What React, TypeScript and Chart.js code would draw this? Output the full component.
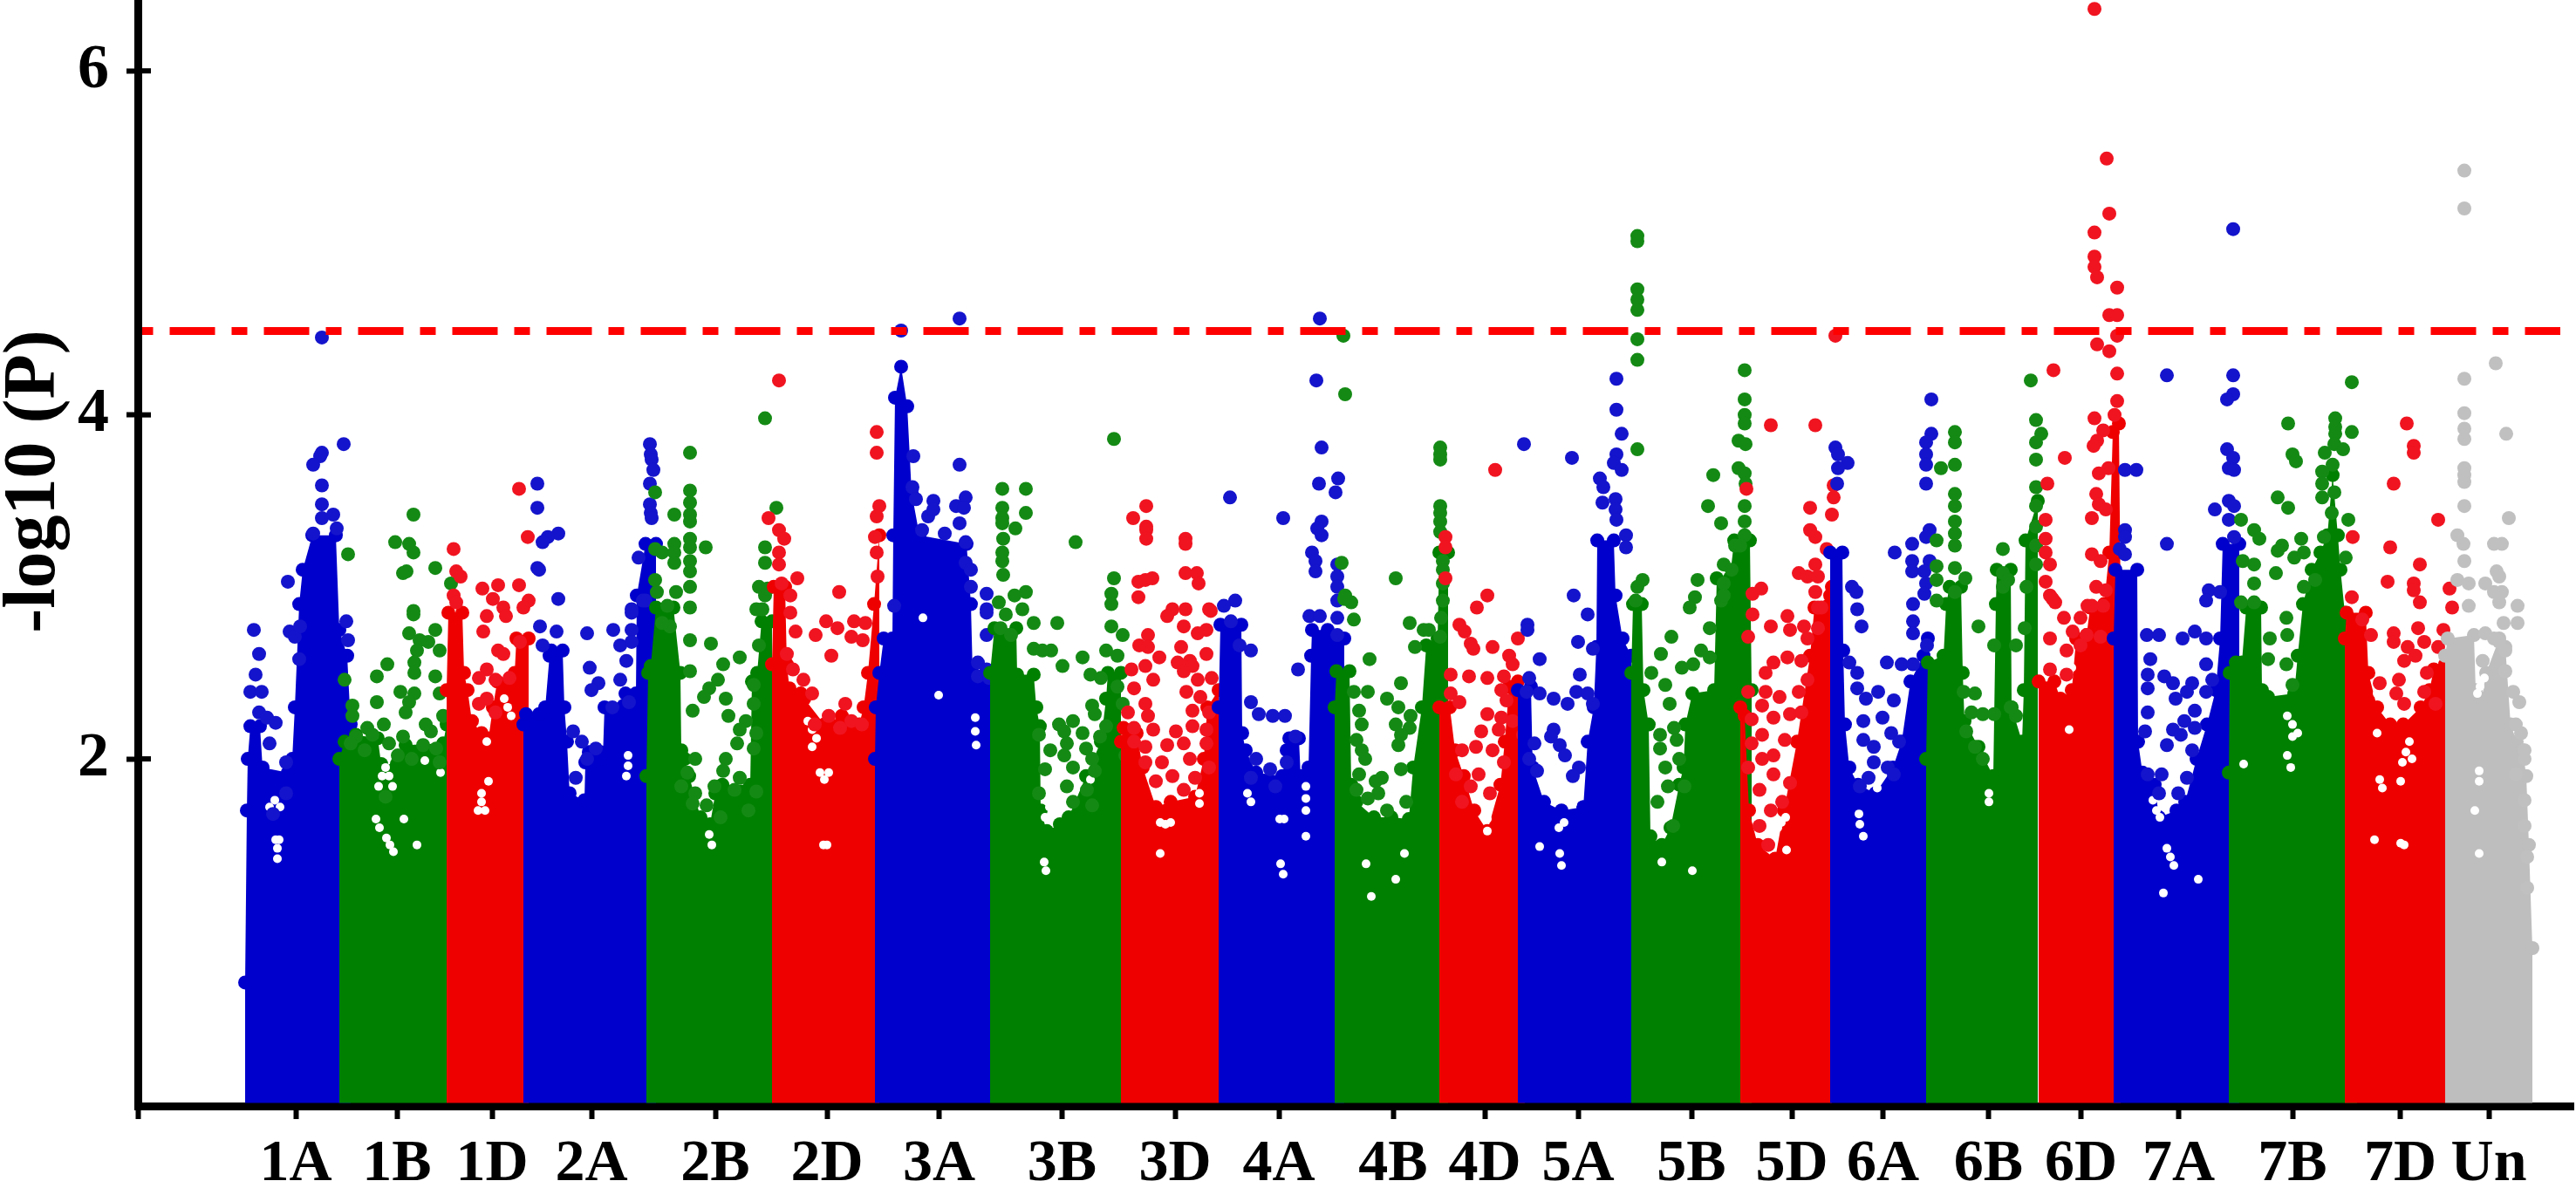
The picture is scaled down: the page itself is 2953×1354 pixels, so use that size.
import React, { useRef, useEffect } from "react";
import { Chart, registerables } from "chart.js";

Chart.register(...registerables);

type Pt = [number, number];

const SERIF = "'Liberation Serif', 'Times New Roman', serif";

const chromLabels = ["1A", "1B", "1D", "2A", "2B", "2D", "3A", "3B", "3D", "4A", "4B", "4D", "5A", "5B", "5D", "6A", "6B", "6D", "7A", "7B", "7D", "Un"];
const chromTicks = [339, 455, 564, 678, 820, 948, 1076.5, 1217.5, 1347, 1466, 1597, 1702, 1809, 1939, 2054, 2158.5, 2279.5, 2385.5, 2497.5, 2628, 2751.5, 2853];
const chromColors = ["#0000cc", "#008000", "#ee0000", "#0000cc", "#008000", "#ee0000", "#0000cc", "#008000", "#ee0000", "#0000cc", "#008000", "#ee0000", "#0000cc", "#008000", "#ee0000", "#0000cc", "#008000", "#ee0000", "#0000cc", "#008000", "#ee0000", "#bebebe"];
const dotColors = ["#1414cc", "#148a14", "#f01420", "#1414cc", "#148a14", "#f01420", "#1414cc", "#148a14", "#f01420", "#1414cc", "#148a14", "#f01420", "#1414cc", "#148a14", "#f01420", "#1414cc", "#148a14", "#f01420", "#1414cc", "#148a14", "#f01420", "#c0c0c0"];

const yTicks = [2, 4, 6];
const thresholdValue = 4.488;
const thresholdRange = [163, 2935];

// top of the solid mass per chromosome: [cumulative position, -log10 P]
const top1A: Pt[] = [[281, 0.7], [283, 1.7], [284, 2], [287, 2.19], [298, 2.19], [301, 1.95], [330, 1.92], [335, 2], [338, 2.3], [343, 2.9], [347, 3.1], [358, 3.3], [385, 3.3], [389, 2.75], [398, 2.6], [402, 2.2]];
const top1B: Pt[] = [[389, 2], [395, 2.1], [408, 2.14], [433, 2.12], [437, 1.97], [455, 1.97], [465, 2.08], [508, 2.09], [512, 2.2]];
const top1D: Pt[] = [[512, 2.4], [514, 2.85], [530, 2.85], [532, 2.5], [536, 2.4], [541, 2.22], [552, 2.15], [560, 2.12], [565, 2.3], [570, 2.45], [590, 2.5], [592, 2.7], [606, 2.7]];
const top2A: Pt[] = [[600, 2.2], [603, 2.26], [618, 2.26], [625, 2.3], [630, 2.6], [632, 2.63], [645, 2.63], [647, 2.3], [650, 2.1], [653, 1.8], [670, 1.76], [671, 1.98], [675, 2.04], [688, 2.04], [691, 2], [693, 2.3], [715, 2.31], [717, 2.38], [729, 2.38], [730, 2.95], [740, 3.25], [752, 3.25]];
const top2B: Pt[] = [[741, 1.9], [743, 2.5], [746, 2.54], [752, 2.88], [772, 2.88], [780, 2.5], [781, 2.05], [785, 2], [790, 1.9], [803, 1.66], [814, 1.62], [820, 1.8], [828, 1.85], [860, 1.85], [862, 2.45], [868, 2.5], [873, 2.8], [885, 2.8]];
const top2D: Pt[] = [[885, 2.55], [887, 3], [900, 3], [902, 2.55], [905, 2.41], [918, 2.38], [922, 2.35], [945, 2.2], [965, 2.25], [985, 2.2], [990, 2.3], [995, 2.5], [1002, 2.9], [1008, 3.3]];
const top3A: Pt[] = [[1003, 2], [1004, 2.3], [1008, 2.5], [1013, 2.7], [1023, 2.7], [1024, 3.3], [1026, 4.1], [1033, 4.28], [1040, 4.05], [1045, 3.55], [1054, 3.3], [1108, 3.25], [1113, 2.9], [1115, 2.5], [1135, 2.45]];
const top3B: Pt[] = [[1135, 2.5], [1140, 2.76], [1165, 2.76], [1166, 2.49], [1185, 2.49], [1188, 2.3], [1192, 2.19], [1193, 1.7], [1200, 1.58], [1215, 1.62], [1225, 1.66], [1245, 1.9], [1262, 2.1], [1268, 2.35], [1270, 2.5], [1285, 2.5]];
const top3D: Pt[] = [[1285, 2.1], [1288, 2.18], [1303, 2.15], [1310, 1.95], [1325, 1.72], [1342, 1.75], [1370, 1.78], [1380, 2], [1384, 2.3], [1397, 2.4]];
const top4A: Pt[] = [[1397, 2.3], [1399, 2.78], [1423, 2.78], [1424, 2.15], [1428, 2.05], [1440, 1.92], [1470, 1.9], [1475, 2.05], [1478, 2.12], [1489, 2.12], [1491, 1.9], [1500, 1.95], [1503, 2.6], [1504, 2.75], [1522, 2.75], [1530, 2.7], [1541, 2.7]];
const top4B: Pt[] = [[1530, 2.3], [1532, 2.51], [1547, 2.51], [1549, 1.85], [1555, 1.75], [1575, 1.66], [1595, 1.66], [1615, 1.65], [1620, 1.95], [1630, 2.3], [1635, 2.66], [1648, 2.7], [1650, 3.2], [1660, 3.2]];
const top4D: Pt[] = [[1650, 2.3], [1662, 2.3], [1668, 2.05], [1678, 1.9], [1690, 1.7], [1705, 1.58], [1720, 1.85], [1725, 2.1], [1730, 2.42], [1740, 2.45], [1748, 2.1]];
const top5A: Pt[] = [[1740, 2.4], [1755, 2.42], [1757, 1.95], [1770, 1.75], [1790, 1.7], [1815, 1.72], [1820, 2.1], [1827, 2.3], [1830, 2.65], [1831, 3.27], [1850, 3.27], [1852, 2.95], [1860, 2.7], [1870, 2.6]];
const top5B: Pt[] = [[1870, 2.5], [1872, 2.9], [1882, 2.9], [1884, 2.4], [1890, 2.2], [1892, 1.55], [1905, 1.5], [1915, 1.6], [1925, 1.85], [1930, 1.95], [1932, 2.2], [1940, 2.38], [1965, 2.4], [1968, 3.05], [1983, 3.05], [1988, 3.27], [2006, 3.27], [2008, 2.4]];
const top5D: Pt[] = [[1995, 2.3], [2000, 2.25], [2005, 1.7], [2015, 1.5], [2035, 1.42], [2045, 1.7], [2060, 2.1], [2075, 2.6], [2080, 2.88], [2098, 2.95], [2100, 3]];
const top6A: Pt[] = [[2098, 3.2], [2112, 3.2], [2113, 2.63], [2115, 2.2], [2120, 1.95], [2130, 1.85], [2150, 1.8], [2170, 1.95], [2180, 2.1], [2190, 2.45], [2205, 2.6], [2210, 2.7]];
const top6B: Pt[] = [[2208, 2], [2210, 2.56], [2228, 2.6], [2231, 2.9], [2235, 3], [2248, 3], [2250, 2.5], [2252, 2.22], [2268, 2.07], [2285, 1.9], [2288, 2.9], [2289, 3.1], [2305, 3.1], [2306, 2.3], [2318, 2.1], [2320, 2.4], [2322, 3.27], [2336, 3.5]];
const top6D: Pt[] = [[2337, 2.45], [2355, 2.45], [2362, 2.35], [2375, 2.4], [2380, 2.7], [2392, 2.72], [2396, 2.88], [2412, 2.9], [2418, 3.2], [2422, 3.9], [2429, 3.95], [2431, 2.9]];
const top7A: Pt[] = [[2423, 2.7], [2425, 3.1], [2450, 3.1], [2451, 2.1], [2456, 1.92], [2470, 1.85], [2475, 1.66], [2495, 1.7], [2505, 1.75], [2518, 2], [2530, 2.2], [2540, 2.4], [2545, 2.7], [2548, 3.25], [2567, 3.25]];
const top7B: Pt[] = [[2555, 1.92], [2556, 2.5], [2563, 2.56], [2570, 2.56], [2575, 2.88], [2592, 2.88], [2593, 2.4], [2600, 2.36], [2630, 2.38], [2634, 2.6], [2640, 2.9], [2650, 3.1], [2660, 3.2], [2668, 3.3], [2674, 3.65], [2680, 3.3], [2683, 3.1], [2688, 2.85], [2702, 2.8]];
const top7D: Pt[] = [[2688, 2.7], [2690, 2.85], [2712, 2.85], [2715, 2.5], [2725, 2.3], [2740, 2.2], [2755, 2.2], [2775, 2.3], [2785, 2.4], [2790, 2.52], [2803, 2.55]];
const topUn: Pt[] = [[2803, 2.6], [2806, 2.7], [2836, 2.72], [2838, 2.4], [2845, 2.35], [2850, 2.5], [2865, 2.7], [2872, 2.65], [2878, 2.2], [2885, 2.1], [2892, 2.05], [2896, 1.9], [2899, 1.5], [2903, 0.9]];

// blank spots inside the mass where no SNP falls
const gaps1A: Pt[] = [[318, 1.48], [318, 1.42], [316, 1.53], [320, 1.53], [315, 1.76], [309, 1.72], [321, 1.72]];
const gaps1B: Pt[] = [[438, 1.9], [446, 1.9], [434, 1.84], [450, 1.84], [442, 1.95], [447, 1.5], [443, 1.54], [451, 1.46], [435, 1.6], [431, 1.65], [487, 1.99], [463, 1.65], [505, 1.92], [478, 1.5]];
const gaps1D: Pt[] = [[552, 1.75], [548, 1.7], [556, 1.7], [552, 1.8], [560, 1.87], [558, 2.1], [582, 2.3], [578, 2.35], [586, 2.25]];
const gaps2A: Pt[] = [[720, 1.96], [720, 2.02], [718, 1.9]];
const gaps2B: Pt[] = [[813, 1.56], [816, 1.5]];
const gaps2D: Pt[] = [[931, 2.17], [926, 2.22], [936, 2.12], [931, 2.07], [945, 1.88], [950, 1.92], [940, 1.92], [948, 1.5], [944, 1.5]];
const gaps3A: Pt[] = [[1118, 2.24], [1118, 2.16], [1119, 2.08], [1058, 2.82], [1076, 2.37]];
const gaps3B: Pt[] = [[1205, 1.8], [1200, 1.86], [1210, 1.74], [1203, 1.72], [1198, 1.66], [1197, 1.4], [1199, 1.35], [1250, 1.88]];
const gaps3D: Pt[] = [[1336, 1.62], [1330, 1.63], [1342, 1.63], [1330, 1.45], [1375, 1.8], [1375, 1.74]];
const gaps4A: Pt[] = [[1430, 1.8], [1434, 1.75], [1467, 1.65], [1472, 1.65], [1497, 1.77], [1497, 1.7], [1497, 1.84], [1468, 1.39], [1471, 1.33], [1497, 1.55]];
const gaps4B: Pt[] = [[1566, 1.39], [1572, 1.2], [1600, 1.3], [1610, 1.45]];
const gaps4D: Pt[] = [[1668, 1.9], [1705, 1.65], [1705, 1.58], [1704, 1.7]];
const gaps5A: Pt[] = [[1805, 1.82], [1800, 1.87], [1810, 1.78], [1803, 1.74], [1787, 1.6], [1793, 1.63], [1765, 1.49], [1788, 1.45], [1790, 1.38]];
const gaps5B: Pt[] = [[1905, 1.4], [1940, 1.35]];
const gaps5D: Pt[] = [[2042, 1.63], [2047, 1.66], [2038, 1.6], [2040, 1.82], [2048, 1.47], [2045, 2.22], [2021, 2.09], [2026, 2.05]];
const gaps6A: Pt[] = [[2132, 1.62], [2136, 1.55], [2131, 1.68], [2148, 1.87], [2152, 1.83], [2170, 1.9]];
const gaps6B: Pt[] = [[2280, 1.8], [2280, 1.75]];
const gaps6D: Pt[] = [[2372, 2.17], [2362, 2.53], [2375, 2.53]];
const gaps7A: Pt[] = [[2472, 1.7], [2468, 1.76], [2476, 1.66], [2488, 1.43], [2492, 1.38], [2484, 1.48], [2480, 1.22], [2520, 1.3]];
const gaps7B: Pt[] = [[2628, 2.2], [2622, 2.25], [2634, 2.15], [2628, 2.13], [2622, 2.02], [2572, 1.97], [2626, 1.95]];
const gaps7D: Pt[] = [[2758, 2.04], [2762, 2.1], [2754, 1.98], [2765, 2], [2728, 1.88], [2731, 1.83], [2752, 1.87], [2752, 1.51], [2756, 1.5], [2722, 1.53], [2725, 2.15], [2725, 2.38], [2730, 2.43]];
const gapsUn: Pt[] = [[2842, 1.93], [2842, 1.87], [2837, 1.7], [2843, 2.42], [2848, 2.47], [2840, 2.38], [2842, 1.45]];

const dots1A: Pt[] = [[369, 4.45], [394, 3.83], [369, 3.78], [367, 3.76], [359, 3.71], [369, 3.59], [369, 3.48], [382, 3.42], [369, 3.4], [386, 3.34], [359, 3.31], [330, 3.03], [291, 2.75], [297, 2.61], [293, 2.49], [287, 2.39], [300, 2.39], [297, 2.27], [306, 2.24], [316, 2.21], [332, 2.74], [338, 2.71], [343, 2.58], [397, 2.8], [399, 2.69], [344, 2.77], [309, 2.09], [313, 1.68], [328, 1.98], [328, 1.8]];
const dots1B: Pt[] = [[399, 3.19], [474, 3.42], [453, 3.26], [469, 3.25], [474, 3.2], [462, 3.08], [466, 3.09], [499, 3.11], [517, 3.02], [474, 2.86], [474, 2.84], [469, 2.73], [499, 2.75], [481, 2.69], [491, 2.68], [478, 2.63], [504, 2.63], [475, 2.56], [444, 2.55], [432, 2.48], [475, 2.5], [499, 2.48], [504, 2.38], [459, 2.39], [475, 2.38], [469, 2.33], [432, 2.33], [465, 2.27], [404, 2.31], [404, 2.25], [508, 2.25], [440, 2.2], [421, 2.18], [488, 2.2], [494, 2.16], [462, 2.13], [408, 2.13], [446, 2.09], [427, 2.14], [485, 2.08], [500, 2.06], [418, 2.05], [395, 2.46], [402, 2.09], [456, 2.02], [472, 2], [504, 1.98], [442, 1.78]];
const dots1D: Pt[] = [[595, 3.57], [520, 3.22], [523, 3.09], [528, 3.06], [520, 2.95], [523, 2.91], [553, 2.99], [571, 3.01], [595, 3.01], [565, 2.93], [606, 2.92], [605, 3.29], [600, 2.88], [577, 2.88], [558, 2.83], [580, 2.83], [554, 2.74], [571, 2.63], [577, 2.61], [596, 2.68], [558, 2.52], [549, 2.47], [568, 2.46], [584, 2.47], [558, 2.35], [549, 2.32], [568, 2.27]];
const dots2A: Pt[] = [[616, 3.6], [616, 3.46], [640, 3.31], [628, 3.29], [622, 3.26], [616, 3.11], [640, 2.93], [724, 2.87], [618, 3.1], [619, 2.77], [638, 2.74], [673, 2.73], [703, 2.75], [724, 2.75], [724, 2.85], [737, 2.92], [711, 2.66], [724, 2.68], [622, 2.66], [676, 2.53], [718, 2.57], [711, 2.46], [686, 2.44], [678, 2.4], [657, 2.16], [667, 2.1], [683, 2.06], [673, 2], [721, 2.33], [702, 2.3], [660, 1.89], [745, 3.83], [746, 3.77], [747, 3.74], [749, 3.68], [745, 3.6], [745, 3.48], [746, 3.43], [747, 3.4], [732, 3.17], [740, 2.92]];
const dots2B: Pt[] = [[791, 3.78], [751, 3.55], [791, 3.56], [791, 3.49], [773, 3.42], [791, 3.42], [791, 3.38], [791, 3.28], [791, 3.23], [773, 3.25], [809, 3.23], [751, 3.22], [759, 3.2], [773, 3.2], [791, 3.15], [773, 3.14], [791, 3.09], [751, 3.04], [791, 3], [775, 2.97], [753, 2.97], [791, 2.88], [765, 2.89], [877, 3.98], [890, 3.46], [877, 3.23], [877, 3.14], [870, 3], [877, 2.95], [867, 2.87], [791, 2.69], [768, 2.77], [759, 2.79], [815, 2.67], [848, 2.59], [829, 2.55], [791, 2.51], [823, 2.46], [813, 2.41], [807, 2.36], [832, 2.35], [864, 2.43], [864, 2.32], [794, 2.28], [835, 2.25], [855, 2.22], [848, 2.17], [867, 2.15], [845, 2.09], [864, 2.06], [832, 2], [797, 2], [788, 1.92], [829, 1.93], [848, 1.89], [781, 1.84], [797, 1.8], [819, 1.84], [842, 1.82], [810, 1.73], [794, 1.74], [867, 1.81], [826, 1.66], [858, 1.7], [870, 2.66], [874, 2.87], [880, 2.99]];
const dots2D: Pt[] = [[893, 4.2], [893, 3.33], [899, 3.28], [881, 3.4], [893, 3.2], [893, 3.13], [914, 3.05], [962, 2.97], [896, 3.02], [906, 2.95], [1005, 3.9], [1005, 3.78], [1008, 3.47], [1005, 3.41], [1003, 3.29], [1005, 3.2], [1006, 3.06], [906, 2.85], [947, 2.8], [935, 2.72], [960, 2.76], [979, 2.8], [976, 2.71], [992, 2.79], [989, 2.69], [953, 2.6], [912, 2.74], [902, 2.61], [921, 2.46], [909, 2.52], [931, 2.38], [969, 2.32], [950, 2.25], [976, 2.22], [934, 2.2], [963, 2.18], [988, 2.2]];
const dots3A: Pt[] = [[1033, 4.49], [1100, 4.56], [1047, 3.76], [1100, 3.71], [1046, 3.58], [1050, 3.51], [1070, 3.5], [1064, 3.41], [1070, 3.45], [1107, 3.52], [1096, 3.47], [1105, 3.46], [1100, 3.37], [1083, 3.31], [1057, 3.33], [1107, 3.26], [1107, 3.14], [1131, 2.96], [1131, 2.87], [1025, 2.89], [1131, 2.85], [1131, 2.72], [1121, 2.56], [1131, 2.52], [1121, 2.48], [1134, 2.47], [1113, 3], [1113, 3.1]];
const dots3B: Pt[] = [[1149, 3.57], [1176, 3.57], [1176, 3.43], [1149, 3.46], [1149, 3.4], [1149, 3.37], [1164, 3.34], [1150, 3.28], [1149, 3.2], [1149, 3.15], [1150, 3.07], [1233, 3.26], [1277, 3.86], [1277, 3.05], [1274, 2.96], [1274, 2.9], [1176, 2.97], [1163, 2.95], [1145, 2.91], [1172, 2.87], [1153, 2.84], [1185, 2.79], [1212, 2.79], [1147, 2.76], [1159, 2.72], [1185, 2.64], [1205, 2.63], [1195, 2.63], [1241, 2.59], [1218, 2.54], [1250, 2.49], [1262, 2.47], [1274, 2.77], [1287, 2.72], [1268, 2.63], [1281, 2.6], [1252, 2.31], [1255, 2.26], [1214, 2.2], [1230, 2.22], [1220, 2.16], [1241, 2.15], [1268, 2.19], [1261, 2.13], [1223, 2.09], [1245, 2.06], [1204, 2.05], [1252, 2], [1220, 2.02], [1191, 2.14], [1230, 1.95], [1198, 1.94], [1255, 1.93], [1223, 1.84], [1191, 1.8], [1246, 1.82], [1230, 1.75], [1252, 1.73], [1281, 2.42], [1287, 2.32], [1290, 2.02]];
const dots3D: Pt[] = [[1299, 3.4], [1314, 3.47], [1314, 3.35], [1314, 3.33], [1314, 3.28], [1359, 3.28], [1359, 3.25], [1359, 3.08], [1372, 3.08], [1374, 3.02], [1305, 3.03], [1313, 3.04], [1321, 3.05], [1305, 2.94], [1344, 2.87], [1359, 2.87], [1386, 2.87], [1338, 2.83], [1388, 2.86], [1357, 2.77], [1383, 2.75], [1373, 2.73], [1316, 2.72], [1306, 2.66], [1354, 2.65], [1316, 2.65], [1383, 2.61], [1329, 2.59], [1364, 2.57], [1350, 2.56], [1297, 2.52], [1313, 2.54], [1357, 2.51], [1367, 2.54], [1322, 2.46], [1389, 2.47], [1373, 2.46], [1300, 2.41], [1360, 2.39], [1313, 2.32], [1376, 2.36], [1293, 2.27], [1367, 2.28], [1316, 2.25], [1386, 2.27], [1300, 2.18], [1322, 2.17], [1348, 2.16], [1367, 2.19], [1383, 2.17], [1300, 2.1], [1313, 2.07], [1338, 2.08], [1357, 2.09], [1383, 2.09], [1332, 1.98], [1364, 2], [1313, 1.98], [1386, 1.95], [1344, 1.9], [1325, 1.87], [1370, 1.89], [1357, 1.82]];
const dots4A: Pt[] = [[1410, 3.52], [1471, 3.4], [1513, 4.56], [1509, 4.2], [1515, 3.81], [1512, 3.6], [1534, 3.63], [1531, 3.55], [1515, 3.38], [1510, 3.34], [1515, 3.3], [1504, 3.2], [1508, 3.15], [1508, 3.09], [1533, 3.13], [1533, 3.06], [1533, 3], [1533, 2.92], [1416, 2.92], [1403, 2.89], [1501, 2.83], [1513, 2.83], [1533, 2.82], [1533, 2.72], [1411, 2.8], [1421, 2.66], [1434, 2.63], [1488, 2.52], [1434, 2.33], [1443, 2.26], [1459, 2.25], [1473, 2.25], [1485, 2.13], [1440, 2], [1456, 1.94], [1475, 1.98], [1434, 1.89], [1462, 1.84]];
const dots4B: Pt[] = [[1540, 4.46], [1542, 4.12], [1538, 3.14], [1600, 3.05], [1542, 2.95], [1549, 2.91], [1541, 2.93], [1552, 2.81], [1616, 2.79], [1632, 2.75], [1622, 2.65], [1570, 2.58], [1606, 2.44], [1552, 2.39], [1568, 2.39], [1590, 2.35], [1603, 2.3], [1558, 2.28], [1617, 2.25], [1600, 2.2], [1616, 2.18], [1561, 2.2], [1555, 2.11], [1606, 2.14], [1561, 2.05], [1603, 2.08], [1565, 2], [1606, 1.94], [1584, 1.89], [1577, 1.87], [1558, 1.91], [1555, 1.82], [1580, 1.8], [1568, 1.77], [1612, 1.75], [1590, 1.7], [1638, 2.75], [1651, 3.81], [1651, 3.77], [1651, 3.74], [1651, 3.47], [1651, 3.43], [1651, 3.38], [1651, 3.32], [1654, 3.15], [1654, 3.1], [1654, 3.02], [1654, 2.92], [1652, 2.82], [1651, 2.71]];
const dots4D: Pt[] = [[1714, 3.68], [1657, 3.29], [1657, 3.23], [1657, 3.05], [1705, 2.95], [1693, 2.88], [1673, 2.78], [1740, 2.7], [1679, 2.74], [1686, 2.67], [1711, 2.65], [1689, 2.64], [1730, 2.6], [1734, 2.55], [1663, 2.49], [1684, 2.48], [1705, 2.47], [1724, 2.48], [1721, 2.4], [1663, 2.38], [1673, 2.33], [1727, 2.34], [1705, 2.26], [1721, 2.24], [1734, 2.22], [1698, 2.16], [1718, 2.17], [1746, 2.14], [1676, 2.05], [1692, 2.07], [1711, 2.05], [1669, 1.91], [1695, 1.91], [1724, 1.98], [1686, 1.84], [1708, 1.8], [1676, 1.75]];
const dots5A: Pt[] = [[1747, 3.83], [1802, 3.75], [1853, 4.21], [1853, 4.03], [1859, 3.89], [1853, 3.77], [1850, 3.72], [1859, 3.68], [1834, 3.63], [1838, 3.58], [1837, 3.49], [1852, 3.51], [1852, 3.45], [1853, 3.39], [1864, 3.3], [1864, 3.23], [1804, 2.95], [1820, 2.84], [1751, 2.78], [1751, 2.75], [1809, 2.68], [1826, 2.64], [1765, 2.58], [1811, 2.49], [1753, 2.47], [1765, 2.38], [1781, 2.35], [1750, 2.39], [1797, 2.32], [1807, 2.39], [1820, 2.38], [1826, 2.32], [1781, 2.17], [1778, 2.13], [1759, 2.09], [1788, 2.08], [1753, 2], [1794, 2.02], [1762, 1.93], [1810, 1.95], [1803, 1.9]];
const dots5B: Pt[] = [[1877, 5.04], [1877, 5.01], [1877, 4.73], [1877, 4.67], [1877, 4.61], [1877, 4.44], [1877, 4.32], [1877, 3.8], [1883, 3.04], [1877, 3], [1875, 2.92], [1946, 3.04], [1976, 3.13], [1943, 2.94], [1937, 2.88], [1973, 2.92], [1976, 3.02], [1989, 3.24], [2000, 4.26], [2000, 4.09], [2000, 4], [2000, 3.95], [1993, 3.85], [2001, 3.83], [1993, 3.69], [2000, 3.66], [2001, 3.6], [1964, 3.65], [1958, 3.47], [2000, 3.47], [1973, 3.37], [2000, 3.38], [2000, 3.3], [1995, 3.24], [1985, 3.1], [1976, 2.95], [1960, 2.76], [1916, 2.71], [1904, 2.61], [1950, 2.63], [1941, 2.55], [1928, 2.53], [1909, 2.43], [1914, 2.32], [1919, 2.18], [1903, 2.14], [1893, 2.5], [1903, 2.06], [1922, 2.11], [1909, 1.95], [1925, 2], [1912, 1.84], [1900, 1.75], [1931, 1.84], [1918, 1.61], [1960, 2.59]];
const dots5D: Pt[] = [[2030, 3.94], [2081, 3.94], [2075, 3.46], [2075, 3.33], [2081, 3.29], [2094, 3.22], [2081, 3.13], [2062, 3.08], [2072, 3.06], [2084, 3.06], [2081, 2.97], [2019, 2.99], [2009, 2.96], [2002, 3.57], [2104, 4.46], [2102, 3.59], [2102, 3.52], [2100, 3.42], [2084, 2.88], [2009, 2.84], [2030, 2.77], [2049, 2.83], [2004, 2.71], [2052, 2.75], [2068, 2.77], [2088, 2.88], [2084, 2.76], [2072, 2.7], [2049, 2.59], [2033, 2.56], [2065, 2.57], [2024, 2.5], [2072, 2.46], [2004, 2.39], [2024, 2.39], [2040, 2.36], [2062, 2.39], [2020, 2.31], [2052, 2.26], [2065, 2.27], [2008, 2.23], [2033, 2.24], [2020, 2.14], [2046, 2.11], [2008, 2.09], [2033, 2.02], [2020, 2], [2004, 1.95], [2033, 1.91], [2052, 1.86], [2017, 1.82], [2043, 1.75], [2030, 1.7], [2017, 1.61], [2027, 1.5]];
const dots6A: Pt[] = [[2214, 4.09], [2214, 3.89], [2208, 3.84], [2208, 3.77], [2208, 3.71], [2208, 3.6], [2104, 3.81], [2107, 3.77], [2118, 3.72], [2107, 3.69], [2106, 3.6], [2212, 3.33], [2208, 3.29], [2192, 3.25], [2172, 3.2], [2192, 3.15], [2212, 3.15], [2192, 3.09], [2206, 3.09], [2208, 3.02], [2123, 3], [2128, 2.97], [2206, 2.96], [2193, 2.9], [2129, 2.87], [2134, 2.77], [2193, 2.8], [2193, 2.73], [2209, 2.66], [2120, 2.56], [2129, 2.5], [2163, 2.56], [2180, 2.55], [2193, 2.55], [2129, 2.41], [2139, 2.35], [2153, 2.39], [2171, 2.34], [2158, 2.24], [2136, 2.22], [2168, 2.15], [2148, 2.07], [2177, 2.1], [2136, 2.11], [2164, 1.95], [2142, 1.89], [2132, 1.84], [2171, 1.91], [2148, 1.98]];
const dots6B: Pt[] = [[2241, 3.9], [2241, 3.84], [2225, 3.69], [2241, 3.71], [2241, 3.54], [2241, 3.47], [2241, 3.38], [2241, 3.31], [2241, 3.24], [2220, 3.27], [2241, 3.11], [2253, 3.05], [2220, 3.12], [2220, 3.04], [2296, 3.22], [2296, 3.08], [2296, 3], [2302, 3.04], [2323, 3], [2334, 3.97], [2328, 4.2], [2340, 3.89], [2334, 3.84], [2334, 3.74], [2334, 3.58], [2334, 3.47], [2334, 3.35], [2334, 3.24], [2334, 3.13], [2241, 2.97], [2220, 2.92], [2268, 2.77], [2286, 2.66], [2321, 2.76], [2311, 2.66], [2264, 2.38], [2251, 2.39], [2260, 2.27], [2273, 2.26], [2286, 2.26], [2311, 2.25], [2254, 2.16], [2264, 2.07], [2273, 2], [2305, 2.3]];
const dots6D: Pt[] = [[2354, 4.26], [2367, 3.75], [2347, 3.6], [2345, 3.39], [2345, 3.28], [2345, 3.2], [2350, 3.13], [2345, 3.03], [2350, 2.95], [2356, 2.91], [2401, 6.36], [2415, 5.49], [2418, 5.17], [2401, 5.06], [2401, 4.92], [2401, 4.86], [2404, 4.8], [2427, 4.74], [2418, 4.58], [2427, 4.58], [2427, 4.46], [2404, 4.41], [2418, 4.37], [2427, 4.24], [2427, 4.08], [2424, 4], [2401, 3.98], [2411, 3.91], [2404, 3.85], [2400, 3.82], [2417, 3.69], [2406, 3.66], [2403, 3.54], [2406, 3.48], [2414, 3.45], [2398, 3.4], [2398, 3.19], [2408, 3.15], [2403, 3], [2393, 2.89], [2411, 2.89], [2353, 2.93], [2366, 2.82], [2398, 2.89], [2414, 2.98], [2385, 2.82], [2376, 2.74], [2350, 2.7], [2392, 2.72], [2369, 2.63], [2385, 2.66], [2408, 2.71], [2369, 2.49], [2350, 2.52]];
const dots7A: Pt[] = [[2560, 5.08], [2484, 4.23], [2560, 4.23], [2560, 4.12], [2553, 4.09], [2553, 3.8], [2560, 3.75], [2555, 3.69], [2561, 3.68], [2436, 3.68], [2449, 3.68], [2484, 3.25], [2539, 3.45], [2555, 3.5], [2561, 3.47], [2555, 3.39], [2436, 3.33], [2436, 3.29], [2430, 3.22], [2436, 3.19], [2561, 3.29], [2532, 2.98], [2529, 2.92], [2545, 2.97], [2461, 2.72], [2475, 2.72], [2502, 2.7], [2516, 2.74], [2529, 2.7], [2465, 2.58], [2529, 2.55], [2462, 2.49], [2481, 2.48], [2491, 2.44], [2513, 2.44], [2536, 2.46], [2462, 2.41], [2507, 2.39], [2529, 2.39], [2494, 2.35], [2462, 2.27], [2516, 2.28], [2504, 2.22], [2459, 2.16], [2491, 2.17], [2516, 2.18], [2484, 2.08], [2500, 2.14], [2513, 2.05], [2462, 1.91], [2478, 1.91], [2507, 1.89], [2497, 1.8], [2475, 1.8]];
const dots7B: Pt[] = [[2623, 3.95], [2696, 4.19], [2677, 3.98], [2677, 3.93], [2677, 3.89], [2696, 3.9], [2628, 3.77], [2632, 3.73], [2665, 3.78], [2676, 3.83], [2686, 3.8], [2674, 3.71], [2662, 3.67], [2662, 3.6], [2662, 3.52], [2676, 3.55], [2611, 3.52], [2623, 3.46], [2673, 3.43], [2692, 3.39], [2569, 3.39], [2584, 3.33], [2590, 3.28], [2638, 3.28], [2664, 3.29], [2616, 3.24], [2611, 3.21], [2630, 3.17], [2641, 3.2], [2689, 3.17], [2571, 3.15], [2584, 3.13], [2609, 3.08], [2584, 3.02], [2641, 3], [2654, 3.04], [2569, 2.91], [2584, 2.91], [2602, 2.7], [2621, 2.82], [2622, 2.72], [2600, 2.58], [2621, 2.55], [2628, 2.43]];
const dots7D: Pt[] = [[2759, 3.95], [2767, 3.82], [2767, 3.78], [2744, 3.6], [2795, 3.39], [2697, 3.29], [2740, 3.23], [2774, 3.13], [2737, 3.03], [2767, 3.02], [2767, 2.98], [2808, 2.99], [2774, 2.91], [2696, 2.94], [2811, 2.88], [2708, 2.81], [2772, 2.76], [2801, 2.75], [2718, 2.72], [2744, 2.73], [2744, 2.68], [2760, 2.65], [2779, 2.68], [2795, 2.65], [2769, 2.6], [2756, 2.57], [2782, 2.5], [2750, 2.46], [2728, 2.44], [2747, 2.38], [2779, 2.39], [2756, 2.32], [2792, 2.32]];
const dotsUn: Pt[] = [[2825, 5.42], [2825, 5.2], [2861, 4.3], [2825, 4.21], [2825, 4.01], [2825, 3.92], [2825, 3.86], [2873, 3.89], [2825, 3.69], [2825, 3.65], [2825, 3.61], [2825, 3.47], [2876, 3.4], [2817, 3.3], [2824, 3.25], [2859, 3.25], [2868, 3.25], [2825, 3.15], [2862, 3.09], [2865, 3.06], [2817, 3.04], [2830, 3.02], [2849, 3.02], [2859, 2.97], [2868, 2.97], [2865, 2.91], [2886, 2.89], [2830, 2.89], [2870, 2.79], [2886, 2.79], [2849, 2.73], [2865, 2.68], [2859, 2.7], [2872, 2.63], [2846, 2.57], [2872, 2.51], [2881, 2.39], [2888, 2.33], [2884, 2.2], [2890, 2.15], [2894, 2.05], [2894, 2], [2884, 1.91], [2894, 1.76], [2894, 1.61], [2897, 1.43], [2897, 1.25]];

const chromTops = [top1A, top1B, top1D, top2A, top2B, top2D, top3A, top3B, top3D, top4A, top4B, top4D, top5A, top5B, top5D, top6A, top6B, top6D, top7A, top7B, top7D, topUn];
const chromGaps = [gaps1A, gaps1B, gaps1D, gaps2A, gaps2B, gaps2D, gaps3A, gaps3B, gaps3D, gaps4A, gaps4B, gaps4D, gaps5A, gaps5B, gaps5D, gaps6A, gaps6B, gaps6D, gaps7A, gaps7B, gaps7D, gapsUn];
const chromDots = [dots1A, dots1B, dots1D, dots2A, dots2B, dots2D, dots3A, dots3B, dots3D, dots4A, dots4B, dots4D, dots5A, dots5B, dots5D, dots6A, dots6B, dots6D, dots7A, dots7B, dots7D, dotsUn];

const toXY = (pts: Pt[]) => pts.map(([x, y]) => ({ x, y }));

// y ticks cross the axis line, and the rotated title sits higher than chart.js would centre it
const axisExtras = {
  id: "axisExtras",
  afterDraw(chart: any) {
    const { ctx, scales, chartArea } = chart;
    ctx.save();
    ctx.fillStyle = "#000";
    yTicks.forEach((v) => {
      ctx.fillRect(chartArea.left, scales.y.getPixelForValue(v) - 3, 15, 6);
    });
    ctx.translate(40, 552);
    ctx.rotate(-Math.PI / 2);
    ctx.font = `bold 84px ${SERIF}`;
    ctx.textAlign = "center";
    ctx.textBaseline = "middle";
    ctx.fillText("-log10 (P)", 0, 0);
    ctx.restore();
  },
};

export default function App() {
  const chartRef = useRef<HTMLCanvasElement | null>(null);

  useEffect(() => {
    if (!chartRef.current) return;

    const datasets: any[] = [];
    chromLabels.forEach((label, i) => {
      // later chromosomes sit on top of earlier ones
      datasets.push({
        type: "line",
        label: `${label} mass`,
        data: toXY(chromTops[i]),
        borderWidth: 0,
        pointRadius: 8,
        pointBorderWidth: 0,
        pointBackgroundColor: chromColors[i],
        tension: 0,
        fill: "origin",
        backgroundColor: chromColors[i],
        order: 100 - i * 3,
      });
      datasets.push({
        type: "scatter",
        label: `${label} gaps`,
        data: toXY(chromGaps[i]),
        pointRadius: 5,
        pointBorderWidth: 0,
        backgroundColor: "#ffffff",
        order: 99 - i * 3,
      });
      datasets.push({
        type: "scatter",
        label,
        data: toXY(chromDots[i]),
        pointRadius: 8,
        pointBorderWidth: 0,
        backgroundColor: dotColors[i],
        order: 98 - i * 3,
      });
    });
    datasets.push({
      type: "line",
      label: "threshold",
      data: thresholdRange.map((x) => ({ x, y: thresholdValue })),
      borderColor: "#ff0000",
      borderWidth: 9,
      borderDash: [52, 19, 18, 19],
      borderDashOffset: 76.5,
      pointRadius: 0,
      fill: false,
      order: -10,
    });

    const chartInstance = new Chart(chartRef.current, {
      type: "scatter",
      data: { datasets },
      plugins: [axisExtras],
      options: {
        animation: false,
        responsive: false,
        devicePixelRatio: 1,
        events: [],
        layout: { autoPadding: false, padding: { left: 0, right: 3, top: 0, bottom: 0 } },
        plugins: { legend: { display: false }, tooltip: { enabled: false } },
        scales: {
          x: {
            type: "linear",
            min: 158,
            max: 2950,
            afterFit: (scale: any) => {
              scale.height = 86;
              scale.paddingLeft = 0;
              scale.paddingRight = 0;
            },
            afterBuildTicks: (scale: any) => {
              scale.ticks = [158, ...chromTicks].map((value) => ({ value }));
            },
            border: { display: true, color: "#000", width: 9 },
            grid: { drawOnChartArea: false, drawTicks: true, tickLength: 15, tickWidth: 6, tickColor: "#000" },
            ticks: {
              autoSkip: false,
              maxRotation: 0,
              padding: 12,
              color: "#000",
              font: { family: SERIF, size: 68, weight: "bold" },
              callback: (_v: any, index: number) => (index === 0 ? "" : chromLabels[index - 1]),
            },
          },
          y: {
            type: "linear",
            min: -0.018,
            max: 6.412,
            afterFit: (scale: any) => {
              scale.width = 158;
              scale.paddingTop = 0;
              scale.paddingBottom = 0;
            },
            afterBuildTicks: (scale: any) => {
              scale.ticks = yTicks.map((value) => ({ value }));
            },
            border: { display: true, color: "#000", width: 9 },
            grid: { drawOnChartArea: false, drawTicks: true, tickLength: 13, tickWidth: 6, tickColor: "#000" },
            ticks: {
              padding: 20,
              color: "#000",
              font: { family: SERIF, size: 72, weight: "bold" },
            },
          },
        },
      },
    } as any);

    return () => {
      chartInstance.destroy();
    };
  }, []);

  return (
    <div style={{ position: "fixed", left: 0, top: 0, width: 2953, height: 1354, background: "#fff" }}>
      <canvas ref={chartRef} width={2953} height={1354} style={{ display: "block" }} />
    </div>
  );
}
